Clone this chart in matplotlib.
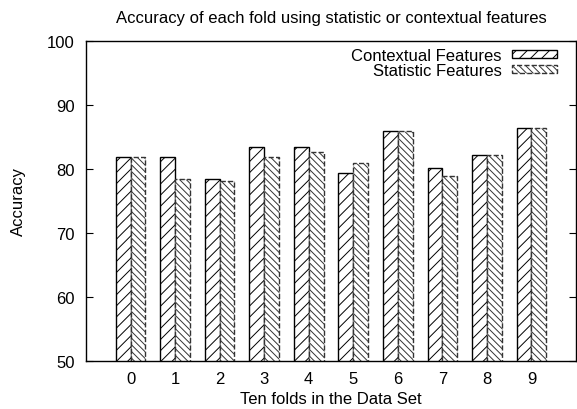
import matplotlib
matplotlib.use("Agg")
import matplotlib.pyplot as plt
import numpy as np

folds = [0, 1, 2, 3, 4, 5, 6, 7, 8, 9]
contextual = [81.9, 81.9, 78.5, 83.5, 83.5, 79.3, 85.9, 80.1, 82.2, 86.4]
statistic = [81.9, 78.5, 78.2, 81.8, 82.7, 80.9, 86.0, 78.9, 82.2, 86.4]
y_ticks = [50, 60, 70, 80, 90, 100]

plt.rcParams["font.family"] = ["Liberation Sans", "DejaVu Sans"]
plt.rcParams["font.size"] = 12
plt.rcParams["hatch.linewidth"] = 0.7

fig = plt.figure(figsize=(5.77, 4.10), dpi=100)
# plot box: x 86..576 px, y 42..362 px
ax = fig.add_axes([86 / 577, 1 - 362 / 410, 490 / 577, 320 / 410])

x = np.arange(len(folds))
width = 1 / 3

ax.bar(x - width / 2, contextual, width=width, color="white",
       edgecolor="black", hatch="///", linewidth=1.0, label="Contextual Features")
ax.bar(x + width / 2, statistic, width=width, color="white",
       edgecolor="#333333", hatch="\\\\\\\\\\", linewidth=1.0, linestyle="--",
       label="Statistic Features")

ax.set_xlim(-1, 10)
ax.set_ylim(50, 100)
ax.set_xticks(x)
ax.set_xticklabels([str(f) for f in folds])
ax.set_yticks(y_ticks)
ax.tick_params(axis="x", length=0, pad=7)
ax.tick_params(axis="y", direction="in", right=True, length=5, pad=8)
for s in ax.spines.values():
    s.set_linewidth(1.0)

fig.text(331 / 577, 1 - 18 / 410,
         "Accuracy of each fold using statistic or contextual features",
         ha="center", va="center")
fig.text(331 / 577, 1 - 400 / 410, "Ten folds in the Data Set",
         ha="center", va="center")
fig.text(18 / 577, 1 - 202 / 410, "Accuracy", rotation=90,
         ha="center", va="center")

leg = ax.legend(loc="upper right", bbox_to_anchor=(1 - 12 / 490, 1.0),
                frameon=False, markerfirst=False,
                handlelength=2.75, handleheight=0.35, borderaxespad=0.0,
                borderpad=0.4, labelspacing=0.0, handletextpad=0.6)
for t in leg.get_texts():
    t.set_ha("right")

fig.savefig("out.png", dpi=100)
